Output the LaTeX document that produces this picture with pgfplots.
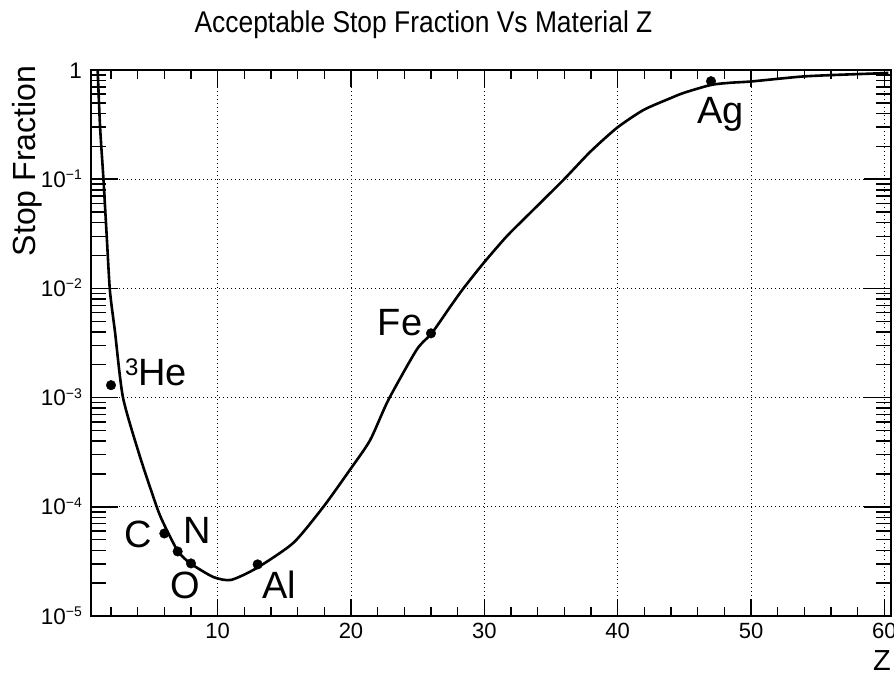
\documentclass[border=0pt]{standalone}
\usepackage{fontspec}
\setmainfont{Liberation Sans}
\usepackage{graphicx}
\usepackage{pgfplots}
\pgfplotsset{compat=1.18}
\pgfplotstableread{
Z y
1.00 1.0
1.18 0.302
1.43 0.102
1.68 0.030
1.92 0.0095
2.30 0.0040
2.90 0.0010
4.18 2.86e-4
5.43 1.0e-4
5.93 7.1e-5
7.00 3.95e-5
7.93 3.05e-5
9.66 2.28e-5
11.00 2.14e-5
12.93 2.75e-5
15.68 4.68e-5
17.93 1.0e-4
19.93 2.19e-4
21.43 4.07e-4
22.80 9.5e-4
24.93 2.75e-3
26.06 3.89e-3
27.43 6.76e-3
28.43 1.0e-2
29.93 1.70e-2
31.68 3.0e-2
33.43 4.9e-2
35.93 9.84e-2
37.94 0.178
39.94 0.295
41.93 0.430
43.93 0.550
45.00 0.620
47.00 0.730
48.50 0.765
50.00 0.785
53.70 0.869
56.20 0.900
59.70 0.933
60.30 0.940
}\curve
\pgfplotstableread{
Z y
2 1.30e-3
6 5.7e-5
7 3.9e-5
8 3.03e-5
13 2.97e-5
26 3.88e-3
47 0.79
}\points
\newcommand\ex[1]{\raisebox{7.5pt}{\fontsize{14}{14}\selectfont #1}}
\begin{document}
\begin{tikzpicture}
% axis 1: x ticks and x grid
\begin{axis}[
  scale only axis, width=800pt, height=546pt,
  xmin=0.5, xmax=60.5, ymode=log, ymin=1e-5, ymax=1,
  axis line style={line width=1.5pt},
  tick style={line width=1.5pt, black},
  tick align=inside,
  grid style={black, line width=0.9pt, dash pattern=on 0.9pt off 3.1pt},
  xtick={10,20,30,40,50,60},
  xticklabels={10,20,30,40,50,60},
  minor xtick={2,4,...,60},
  major tick length=17pt, minor tick length=9pt,
  ytick=\empty,
  xmajorgrids,
  xticklabel style={font=\fontsize{22}{22}\selectfont, anchor=north, inner sep=0pt, yshift=-7pt},
]
\addplot[draw=none] coordinates {(1,0.1)};
\end{axis}
% axis 2: y ticks, y grid and data
\begin{axis}[
  scale only axis, width=800pt, height=546pt,
  xmin=0.5, xmax=60.5, ymode=log, ymin=1e-5, ymax=1,
  axis line style={line width=1.5pt},
  tick style={line width=1.5pt, black},
  tick align=inside,
  grid style={black, line width=0.9pt, dash pattern=on 0.9pt off 3.1pt},
  xtick=\empty,
  ytick={1e-5,1e-4,1e-3,1e-2,1e-1,1},
  yticklabels={10\ex{−5},10\ex{−4},10\ex{−3},10\ex{−2},10\ex{−1},1},
  minor ytick={2e-5,3e-5,4e-5,5e-5,6e-5,7e-5,8e-5,9e-5,
               2e-4,3e-4,4e-4,5e-4,6e-4,7e-4,8e-4,9e-4,
               2e-3,3e-3,4e-3,5e-3,6e-3,7e-3,8e-3,9e-3,
               2e-2,3e-2,4e-2,5e-2,6e-2,7e-2,8e-2,9e-2,
               0.2,0.3,0.4,0.5,0.6,0.7,0.8,0.9},
  major tick length=27pt, minor tick length=15pt,
  ymajorgrids,
  yticklabel style={font=\fontsize{22.5}{22.5}\selectfont, anchor=base east, inner sep=0pt, xshift=-9pt, yshift=-8pt},
]
\addplot[black, line width=2.6pt, smooth, tension=0.4] table[x=Z, y=y] {\curve};
\addplot[only marks, mark=*, mark size=4.8pt, black] table[x=Z, y=y] {\points};
\node[anchor=base, inner sep=0pt, font=\fontsize{38}{38}\selectfont] at (axis cs:5.375,1.30e-3) {{\fontsize{24}{24}\selectfont\raisebox{10pt}{3}}He};
\node[anchor=base, inner sep=0pt, font=\fontsize{38}{38}\selectfont] at (axis cs:4.025,4.20e-5) {C};
\node[anchor=base, inner sep=0pt, font=\fontsize{38}{38}\selectfont] at (axis cs:8.45,4.66e-5) {N};
\node[anchor=base, inner sep=0pt, font=\fontsize{38}{38}\selectfont] at (axis cs:7.55,1.46e-5) {O};
\node[anchor=base, inner sep=0pt, font=\fontsize{38}{38}\selectfont] at (axis cs:14.6,1.46e-5) {Al};
\node[anchor=base, inner sep=0pt, font=\fontsize{38}{38}\selectfont] at (axis cs:23.675,3.74e-3) {Fe};
\node[anchor=base, inner sep=0pt, font=\fontsize{38}{38}\selectfont] at (axis cs:47.72,0.327) {Ag};
\end{axis}
\node[anchor=base, inner sep=0pt, font=\fontsize{30}{30}\selectfont] at (332.5pt,583pt) {\scalebox{0.88}[1]{Acceptable Stop Fraction Vs Material Z}};
\node[anchor=base, rotate=90, inner sep=0pt, font=\fontsize{32}{32}\selectfont] at (-55pt,455pt) {Stop Fraction};
\node[anchor=north east, inner sep=0pt, font=\fontsize{29}{29}\selectfont] at (800pt,-34pt) {Z};
\pgfresetboundingbox
\path[use as bounding box] (-91pt,-56pt) rectangle (803pt,616pt);
\end{tikzpicture}
\end{document}
